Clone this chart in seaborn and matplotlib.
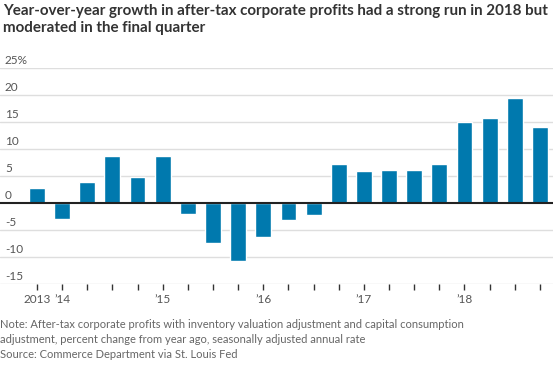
import pandas as pd
import seaborn as sns
import matplotlib.pyplot as plt
import matplotlib.transforms as mtransforms

# Dados: crescimento anual dos lucros corporativos após impostos (%), trimestral
trimestres = ['2013Q4',
              '2014Q1', '2014Q2', '2014Q3', '2014Q4',
              '2015Q1', '2015Q2', '2015Q3', '2015Q4',
              '2016Q1', '2016Q2', '2016Q3', '2016Q4',
              '2017Q1', '2017Q2', '2017Q3', '2017Q4',
              '2018Q1', '2018Q2', '2018Q3', '2018Q4']
crescimento = [2.9, -2.9, 4.0, 8.7, 4.9, 8.7, -1.95, -7.4, -10.75, -6.25, -3.1,
               -2.2, 7.2, 5.9, 6.1, 6.25, 7.2, 15.05, 15.8, 19.55, 14.1]
rotulos_x = {'2013Q4': '2013', '2014Q1': "’14", '2015Q1': "’15",
             '2016Q1': "’16", '2017Q1': "’17", '2018Q1': "’18"}
ticks_y = [-15, -10, -5, 0, 5, 10, 15, 20, 25]

dados = pd.DataFrame({'trimestre': trimestres, 'valor': crescimento})

sns.set_style('white')
plt.rcParams['font.family'] = ['Lato', 'DejaVu Sans']

fig = plt.figure(figsize=(5.53, 3.69), dpi=100)
ax = fig.add_axes([0, 0.2295, 1, 0.5854])

sns.barplot(data=dados, x='trimestre', y='valor', color='#0079ae',
            saturation=1, width=0.63, ax=ax, zorder=3)

ax.set_xlim(-1.47, 20.52)
ax.set_ylim(-15, 25)

# Grade horizontal e linha do zero
for v in ticks_y:
    if v == 0:
        ax.axhline(v, color='#222222', lw=1.5, zorder=4)
    else:
        ax.axhline(v, color='#dedede', lw=1, zorder=1)

# Rótulos do eixo y acima das linhas
trans = mtransforms.blended_transform_factory(ax.transAxes, ax.transData)
for v in ticks_y:
    txt = f'{v}%' if v == 25 else f'{v}'
    ax.text(0.009, v + 0.45, txt, transform=trans, ha='left', va='bottom',
            fontsize=8.5, color='#555555')

ax.set_yticks([])
ax.set_xticks(range(len(trimestres)))
ax.set_xticklabels([rotulos_x.get(t, '') for t in trimestres],
                   fontsize=8.5, color='#555555')
ax.tick_params(axis='x', length=4, width=1, color='#333333', pad=3,
               bottom=True)
ax.set_xlabel('')
ax.set_ylabel('')
for s in ax.spines.values():
    s.set_visible(False)

fig.text(0.006, 0.988,
         'Year-over-year growth in after-tax corporate profits had a strong run in 2018 but\n'
         'moderated in the final quarter',
         ha='left', va='top', fontsize=10.9, fontweight='bold', color='#333333',
         linespacing=1.22)

fig.text(0.0, 0.135,
         'Note: After-tax corporate profits with inventory valuation adjustment and capital consumption\n'
         'adjustment, percent change from year ago, seasonally adjusted annual rate\n'
         'Source: Commerce Department via St. Louis Fed',
         ha='left', va='top', fontsize=8, color='#666666', linespacing=1.45)

fig.savefig('out.png', dpi=100)
